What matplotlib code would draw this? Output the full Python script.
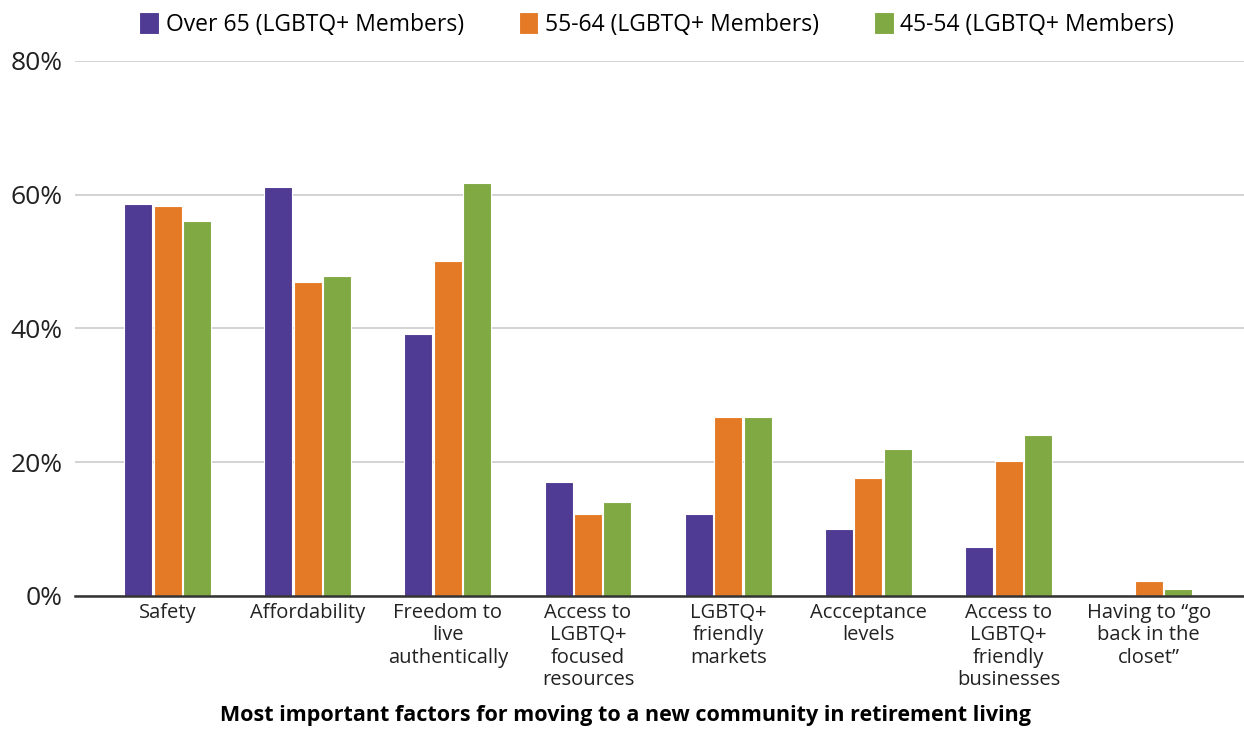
import numpy as np
import matplotlib
matplotlib.use("Agg")
import matplotlib.pyplot as plt

#Data (percent)
categories = ["Safety", "Affordability", "Freedom to\nlive\nauthentically",
              "Access to\nLGBTQ+\nfocused\nresources", "LGBTQ+\nfriendly\nmarkets",
              "Accceptance\nlevels", "Access to\nLGBTQ+\nfriendly\nbusinesses",
              "Having to \u201cgo\nback in the\ncloset\u201d"]
series_names = ["Over 65 (LGBTQ+ Members)", "55-64 (LGBTQ+ Members)", "45-54 (LGBTQ+ Members)"]
over_65 = [58.6, 61.2, 39.2, 17.1, 12.2, 10.0, 7.3, 0.0]
age_55_64 = [58.3, 47.0, 50.1, 12.2, 26.7, 17.7, 20.2, 2.3]
age_45_54 = [56.0, 47.9, 61.7, 14.0, 26.7, 22.0, 24.0, 1.0]
yticks = [0, 20, 40, 60, 80]

#Theme colors
colors = ["#4F3B93", "#E57A26", "#80A843"]
plt.rcParams["font.family"] = ["Open Sans", "DejaVu Sans"]

fig = plt.figure(figsize=(12.44, 7.30), dpi=100)
ax = fig.add_axes([0.0603, 0.1836, 0.9397, 0.7329])

x = np.arange(len(categories))
offsets = [-0.21, 0, 0.21]
for vals, off, col, name in zip([over_65, age_55_64, age_45_54], offsets, colors, series_names):
    ax.bar(x + off, vals, width=0.2, color=col, edgecolor="white", linewidth=0.8, label=name, zorder=3)

ax.set_xlim(-0.66, 7.68)
ax.set_ylim(0, 80)
ax.set_yticks(yticks)
ax.set_yticklabels([f"{t}%" for t in yticks], fontsize=19)
ax.set_xticks(x)
ax.set_xticklabels(categories, fontsize=14.5, linespacing=1.16)
ax.tick_params(axis="both", length=0, colors="#222222")
ax.tick_params(axis="y", pad=9)
ax.tick_params(axis="x", pad=5)

ax.grid(axis="y", color="#D0D0D0", linewidth=1.3, zorder=0)
for s in ["top", "right", "left"]:
    ax.spines[s].set_visible(False)
ax.spines["bottom"].set_color("#333333")
ax.spines["bottom"].set_linewidth(1.8)
ax.spines["bottom"].set_zorder(4)

fig.text(0.503, 0.005, "Most important factors for moving to a new community in retirement living",
         ha="center", va="bottom", fontsize=15.5, weight="bold", color="black")

fig.legend(loc="upper center", bbox_to_anchor=(0.528, 1.012), ncol=3, frameon=False,
           fontsize=16.5, handlelength=0.85, handleheight=1.1, handletextpad=0.3, columnspacing=2.4)

plt.savefig("out.png", dpi=100)
plt.close()
